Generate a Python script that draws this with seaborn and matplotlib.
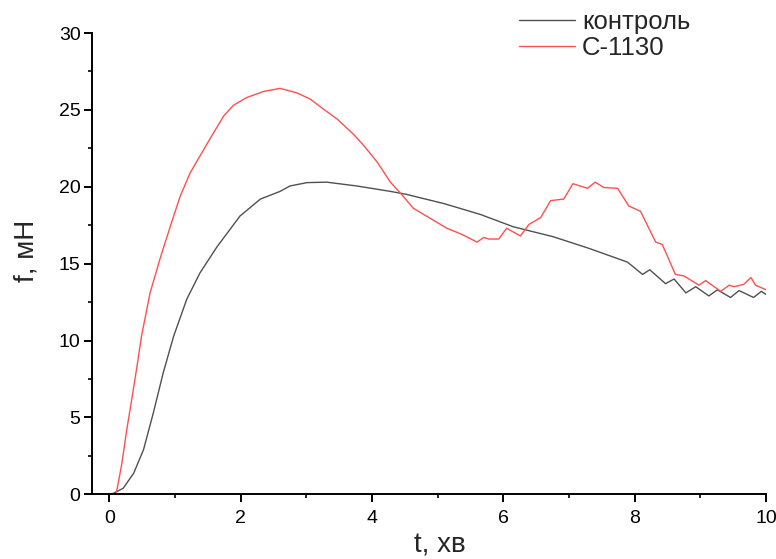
import matplotlib
matplotlib.use("Agg")
import matplotlib.pyplot as plt
from matplotlib.ticker import MultipleLocator
import seaborn as sns
import pandas as pd

# --- data ---
ctrl_t = [0, 0.06, 0.21, 0.37, 0.52, 0.67, 0.82, 0.98, 1.18, 1.38, 1.64, 1.99, 2.3,
          2.6, 2.75, 3.01, 3.31, 3.77, 4.28, 4.53, 5.1, 5.65, 6.15, 6.76, 7.3, 7.89,
          8.12, 8.23, 8.47, 8.6, 8.78, 8.93, 9.13, 9.26, 9.46, 9.59, 9.81, 9.93, 10.0]
ctrl_f = [0, 0.06, 0.39, 1.37, 2.9, 5.3, 7.9, 10.3, 12.7, 14.4, 16.1, 18.1, 19.2,
          19.7, 20.05, 20.27, 20.3, 20.05, 19.7, 19.5, 18.9, 18.2, 17.4, 16.75, 16.0, 15.1,
          14.3, 14.6, 13.7, 14.0, 13.1, 13.5, 12.9, 13.3, 12.8, 13.25, 12.8, 13.2, 13.0]

c1130_t = [0, 0.1, 0.11, 0.19, 0.265, 0.34, 0.42, 0.49, 0.62, 0.77, 0.93, 1.08, 1.23,
           1.38, 1.53, 1.74, 1.89, 2.09, 2.35, 2.6, 2.86, 3.06, 3.26, 3.47, 3.57, 3.72,
           3.87, 4.08, 4.28, 4.43, 4.63, 5.14, 5.37, 5.6, 5.7, 5.78, 5.93, 6.05, 6.26,
           6.39, 6.57, 6.72, 6.92, 7.06, 7.28, 7.4, 7.53, 7.74, 7.91, 8.09, 8.32, 8.42,
           8.62, 8.75, 8.98, 9.08, 9.31, 9.44, 9.51, 9.66, 9.77, 9.84, 10.0]
c1130_f = [0, 0, 0.17, 2.0, 4.2, 6.15, 8.3, 10.3, 13.1, 15.3, 17.45, 19.4, 20.9,
           22.0, 23.1, 24.6, 25.3, 25.8, 26.2, 26.4, 26.1, 25.7, 25.05, 24.4, 24.0, 23.4,
           22.7, 21.6, 20.3, 19.6, 18.6, 17.3, 16.9, 16.4, 16.7, 16.6, 16.6, 17.3, 16.8,
           17.55, 18.0, 19.1, 19.2, 20.2, 19.9, 20.3, 19.95, 19.9, 18.75, 18.4, 16.4, 16.25,
           14.3, 14.2, 13.6, 13.9, 13.2, 13.6, 13.5, 13.65, 14.1, 13.6, 13.3]

series_names = ["контроль", "С-1130"]
series_colors = ["#505050", "#ff4f4f"]

df = pd.concat([
    pd.DataFrame({"t": ctrl_t, "f": ctrl_f, "series": series_names[0]}),
    pd.DataFrame({"t": c1130_t, "f": c1130_f, "series": series_names[1]}),
], ignore_index=True)

sns.set_style("ticks")
plt.rcParams["font.family"] = ["Liberation Sans", "DejaVu Sans"]

fig = plt.figure(figsize=(7.76, 5.59), dpi=100)
ax = fig.add_axes([92.3 / 776, 1 - 494.3 / 559, (766 - 92.3) / 776, (494.3 - 33) / 559])

sns.lineplot(data=df, x="t", y="f", hue="series", hue_order=series_names,
             palette=dict(zip(series_names, series_colors)), estimator=None,
             sort=False, linewidth=1.0, ax=ax)

ax.set_xlim(-0.26, 10)
ax.set_ylim(0, 30)
ax.xaxis.set_major_locator(MultipleLocator(2))
ax.xaxis.set_minor_locator(MultipleLocator(1))
ax.yaxis.set_major_locator(MultipleLocator(5))
ax.yaxis.set_minor_locator(MultipleLocator(2.5))
ax.tick_params(which="major", direction="out", length=5.5, width=1.4,
               labelsize=14, colors="black", pad=3)
ax.tick_params(axis="x", which="major", pad=6)
ax.tick_params(which="minor", direction="out", length=3, width=1.4)
for side in ["top", "right"]:
    ax.spines[side].set_visible(False)
for side in ["left", "bottom"]:
    ax.spines[side].set_linewidth(1.4)
    ax.spines[side].set_color("black")

ax.set_xlabel("t, хв", fontsize=20)
ax.set_ylabel("f, мН", fontsize=20)
ax.xaxis.set_label_coords((440 - 92.3) / 673.7, (494.3 - 533) / 461.3)
ax.yaxis.set_label_coords((40 - 92.3) / 673.7, (494.3 - 251) / 461.3)

handles, labels = ax.get_legend_handles_labels()
ax.legend(handles, labels, loc="upper left", bbox_to_anchor=(506 / 776, 1 + 3 / 559),
          bbox_transform=fig.transFigure, frameon=False, fontsize=18.5,
          handlelength=2.2, handletextpad=0.25, borderpad=0, labelspacing=0.1)

fig.savefig("out.png", dpi=100)
